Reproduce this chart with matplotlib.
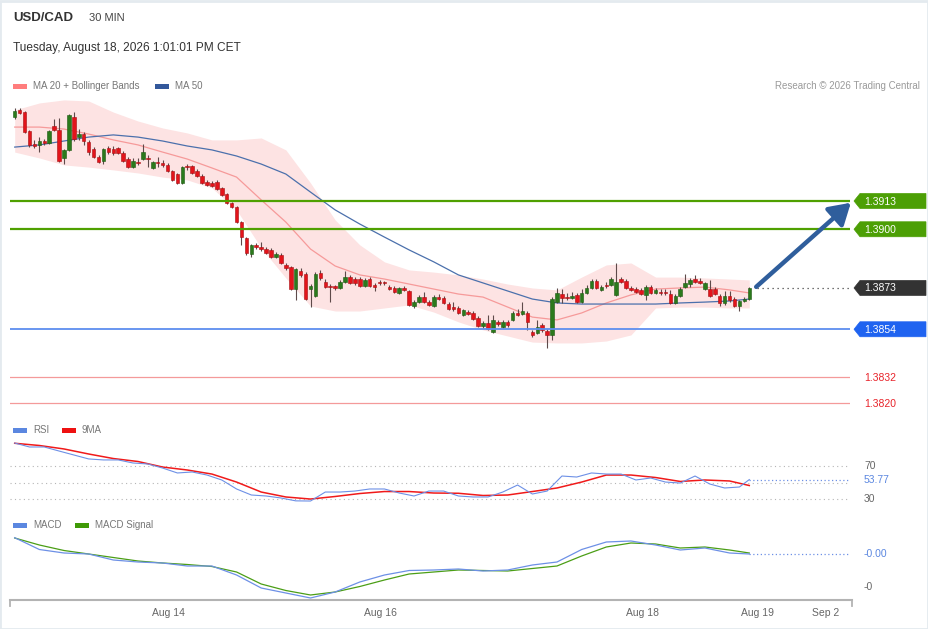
import numpy as np
import matplotlib
matplotlib.use('Agg')
import matplotlib.pyplot as plt
from matplotlib.patches import Polygon, Rectangle
from matplotlib.transforms import blended_transform_factory

plt.rcParams['font.family'] = ['Liberation Sans', 'DejaVu Sans']

W, H = 929, 629

# ---- USD/CAD 30 min candles ----
opens = [1.39516, 1.39549, 1.39539, 1.39452, 1.39392, 1.39388, 1.39406, 1.39397, 1.39475, 1.39457,
         1.39328, 1.39365, 1.39516, 1.39424, 1.39438, 1.39401, 1.39369, 1.39332, 1.39314, 1.39374,
         1.39369, 1.39374, 1.39351, 1.39323, 1.39286, 1.39309, 1.39323, 1.39328, 1.39282, 1.39310,
         1.39305, 1.39296, 1.39268, 1.39254, 1.39213, 1.39291, 1.39291, 1.39268, 1.39245, 1.39217,
         1.39213, 1.39217, 1.39190, 1.39162, 1.39121, 1.39102, 1.39034, 1.38959, 1.38886, 1.38928,
         1.38918, 1.38909, 1.38905, 1.38872, 1.38882, 1.38836, 1.38826, 1.38725, 1.38808, 1.38794,
         1.38725, 1.38693, 1.38799, 1.38757, 1.38739, 1.38739, 1.38730, 1.38757, 1.38780, 1.38771,
         1.38771, 1.38739, 1.38771, 1.38744, 1.38757, 1.38757, 1.38734, 1.38730, 1.38707, 1.38730,
         1.38716, 1.38647, 1.38666, 1.38689, 1.38666, 1.38647, 1.38689, 1.38684, 1.38656, 1.38642,
         1.38638, 1.38606, 1.38620, 1.38615, 1.38592, 1.38555, 1.38569, 1.38527, 1.38574, 1.38550,
         1.38574, 1.38583, 1.38615, 1.38610, 1.38615, 1.38527, 1.38523, 1.38559, 1.38532, 1.38514,
         1.38665, 1.38702, 1.38688, 1.38684, 1.38698, 1.38665, 1.38707, 1.38730, 1.38762, 1.38721,
         1.38744, 1.38744, 1.38698, 1.38771, 1.38762, 1.38730, 1.38725, 1.38721, 1.38698, 1.38734,
         1.38707, 1.38711, 1.38711, 1.38702, 1.38661, 1.38693, 1.38734, 1.38748, 1.38771, 1.38762,
         1.38725, 1.38725, 1.38725, 1.38693, 1.38661, 1.38693, 1.38679, 1.38647, 1.38670, 1.38679]
closes = [1.39544, 1.39535, 1.39447, 1.39388, 1.39383, 1.39406, 1.39397, 1.39452, 1.39457, 1.39314,
          1.39365, 1.39526, 1.39415, 1.39438, 1.39406, 1.39355, 1.39332, 1.39309, 1.39369, 1.39355,
          1.39351, 1.39351, 1.39314, 1.39286, 1.39314, 1.39305, 1.39355, 1.39323, 1.39310, 1.39305,
          1.39296, 1.39268, 1.39227, 1.39213, 1.39286, 1.39286, 1.39259, 1.39245, 1.39213, 1.39204,
          1.39199, 1.39185, 1.39158, 1.39121, 1.39102, 1.39034, 1.38964, 1.38891, 1.38928, 1.38918,
          1.38909, 1.38891, 1.38872, 1.38886, 1.38845, 1.38822, 1.38725, 1.38817, 1.38790, 1.38679,
          1.38739, 1.38794, 1.38776, 1.38734, 1.38734, 1.38730, 1.38757, 1.38780, 1.38753, 1.38753,
          1.38739, 1.38767, 1.38739, 1.38734, 1.38753, 1.38753, 1.38725, 1.38711, 1.38730, 1.38721,
          1.38652, 1.38666, 1.38689, 1.38666, 1.38652, 1.38689, 1.38680, 1.38661, 1.38633, 1.38633,
          1.38615, 1.38629, 1.38610, 1.38587, 1.38555, 1.38569, 1.38541, 1.38583, 1.38564, 1.38574,
          1.38560, 1.38615, 1.38606, 1.38624, 1.38574, 1.38514, 1.38550, 1.38537, 1.38514, 1.38679,
          1.38707, 1.38684, 1.38684, 1.38693, 1.38665, 1.38707, 1.38730, 1.38762, 1.38730, 1.38734,
          1.38739, 1.38771, 1.38757, 1.38757, 1.38730, 1.38721, 1.38711, 1.38702, 1.38734, 1.38707,
          1.38721, 1.38707, 1.38707, 1.38661, 1.38693, 1.38725, 1.38753, 1.38767, 1.38757, 1.38753,
          1.38753, 1.38693, 1.38702, 1.38661, 1.38693, 1.38675, 1.38647, 1.38670, 1.38679, 1.38728]
highs = [1.39559, 1.39559, 1.39544, 1.39457, 1.39411, 1.39424, 1.39415, 1.39457, 1.39507, 1.39512,
         1.39370, 1.39530, 1.39539, 1.39461, 1.39447, 1.39411, 1.39378, 1.39342, 1.39374, 1.39383,
         1.39383, 1.39378, 1.39360, 1.39332, 1.39328, 1.39328, 1.39392, 1.39342, 1.39314, 1.39332,
         1.39319, 1.39305, 1.39273, 1.39259, 1.39291, 1.39300, 1.39296, 1.39277, 1.39254, 1.39227,
         1.39222, 1.39227, 1.39195, 1.39167, 1.39125, 1.39107, 1.39038, 1.38964, 1.38932, 1.38937,
         1.38941, 1.38918, 1.38914, 1.38895, 1.38891, 1.38845, 1.38831, 1.38822, 1.38822, 1.38803,
         1.38748, 1.38803, 1.38813, 1.38771, 1.38748, 1.38744, 1.38767, 1.38808, 1.38790, 1.38780,
         1.38780, 1.38776, 1.38780, 1.38753, 1.38767, 1.38762, 1.38744, 1.38739, 1.38734, 1.38739,
         1.38721, 1.38675, 1.38698, 1.38711, 1.38675, 1.38698, 1.38702, 1.38693, 1.38666, 1.38666,
         1.38647, 1.38633, 1.38629, 1.38624, 1.38601, 1.38578, 1.38606, 1.38606, 1.38583, 1.38583,
         1.38583, 1.38624, 1.38633, 1.38666, 1.38624, 1.38537, 1.38583, 1.38569, 1.38541, 1.38688,
         1.38730, 1.38725, 1.38707, 1.38711, 1.38707, 1.38725, 1.38744, 1.38771, 1.38771, 1.38744,
         1.38757, 1.38780, 1.38845, 1.38780, 1.38771, 1.38739, 1.38734, 1.38730, 1.38744, 1.38744,
         1.38730, 1.38725, 1.38725, 1.38721, 1.38702, 1.38734, 1.38794, 1.38776, 1.38790, 1.38776,
         1.38757, 1.38767, 1.38734, 1.38702, 1.38716, 1.38716, 1.38688, 1.38675, 1.38688, 1.38733]
lows = [1.39507, 1.39530, 1.39443, 1.39378, 1.39374, 1.39355, 1.39388, 1.39392, 1.39452, 1.39310,
        1.39300, 1.39360, 1.39406, 1.39411, 1.39388, 1.39342, 1.39328, 1.39305, 1.39300, 1.39346,
        1.39342, 1.39346, 1.39310, 1.39282, 1.39282, 1.39296, 1.39319, 1.39286, 1.39277, 1.39286,
        1.39286, 1.39263, 1.39222, 1.39208, 1.39208, 1.39273, 1.39254, 1.39240, 1.39208, 1.39199,
        1.39195, 1.39181, 1.39153, 1.39116, 1.39098, 1.39029, 1.38928, 1.38882, 1.38872, 1.38909,
        1.38900, 1.38886, 1.38868, 1.38868, 1.38840, 1.38813, 1.38721, 1.38675, 1.38780, 1.38675,
        1.38642, 1.38688, 1.38767, 1.38730, 1.38666, 1.38721, 1.38725, 1.38753, 1.38748, 1.38744,
        1.38734, 1.38734, 1.38734, 1.38716, 1.38744, 1.38744, 1.38721, 1.38707, 1.38702, 1.38716,
        1.38647, 1.38638, 1.38661, 1.38661, 1.38647, 1.38642, 1.38675, 1.38656, 1.38629, 1.38624,
        1.38610, 1.38601, 1.38606, 1.38583, 1.38550, 1.38546, 1.38537, 1.38523, 1.38555, 1.38546,
        1.38550, 1.38578, 1.38601, 1.38606, 1.38537, 1.38504, 1.38518, 1.38527, 1.38454, 1.38491,
        1.38661, 1.38661, 1.38675, 1.38680, 1.38661, 1.38661, 1.38702, 1.38725, 1.38725, 1.38716,
        1.38730, 1.38739, 1.38693, 1.38753, 1.38725, 1.38716, 1.38707, 1.38698, 1.38675, 1.38702,
        1.38702, 1.38698, 1.38698, 1.38656, 1.38656, 1.38688, 1.38730, 1.38734, 1.38753, 1.38748,
        1.38721, 1.38688, 1.38698, 1.38647, 1.38652, 1.38666, 1.38642, 1.38624, 1.38666, 1.38675]

# indicator lines, read every 5th candle (candles 1, 6, 11 ... 146, 150)
ind_idx = list(range(1, 147, 5)) + [150]
ma20 = [1.39470, 1.39470, 1.39461, 1.39438, 1.39411, 1.39388, 1.39355, 1.39323, 1.39282, 1.39240,
        1.39135, 1.39033, 1.38909, 1.38831, 1.38790, 1.38771, 1.38748, 1.38725, 1.38702, 1.38688,
        1.38642, 1.38596, 1.38583, 1.38615, 1.38661, 1.38698, 1.38725, 1.38730, 1.38734, 1.38721,
        1.38707]
ma50 = [1.39378, 1.39388, 1.39406, 1.39424, 1.39434, 1.39424, 1.39406, 1.39383, 1.39365, 1.39337,
        1.39300, 1.39254, 1.39171, 1.39089, 1.39024, 1.38964, 1.38905, 1.38850, 1.38790, 1.38753,
        1.38716, 1.38679, 1.38661, 1.38656, 1.38656, 1.38656, 1.38656, 1.38661, 1.38665, 1.38670,
        1.38679]
bb_upper = [1.39549, 1.39581, 1.39595, 1.39590, 1.39539, 1.39498, 1.39466, 1.39443, 1.39411, 1.39411,
            1.39420, 1.39365, 1.39213, 1.39043, 1.38928, 1.38850, 1.38813, 1.38803, 1.38790, 1.38771,
            1.38748, 1.38730, 1.38721, 1.38780, 1.38836, 1.38845, 1.38780, 1.38780, 1.38776, 1.38771,
            1.38767]
bb_lower = [1.39355, 1.39328, 1.39296, 1.39286, 1.39273, 1.39259, 1.39240, 1.39227, 1.39190, 1.39089,
            1.38914, 1.38776, 1.38647, 1.38624, 1.38624, 1.38638, 1.38652, 1.38619, 1.38574, 1.38537,
            1.38509, 1.38481, 1.38477, 1.38477, 1.38486, 1.38514, 1.38638, 1.38642, 1.38642, 1.38638,
            1.38638]

# RSI (every 3rd candle) and its 9MA (every 5th candle)
rsi_idx = list(range(1, 149, 3)) + [150]
rsi = [98.1, 93.3, 93.3, 88.4, 83.6, 78.8, 77.6, 77.6, 73.9, 72.7,
       67.8, 61.8, 63.0, 59.3, 53.3, 42.4, 35.1, 33.9, 31.5, 28.0,
       27.8, 38.7, 38.7, 39.9, 42.4, 42.4, 37.5, 33.9, 39.9, 39.9,
       33.9, 32.7, 32.7, 38.7, 47.2, 36.3, 39.9, 58.1, 56.9, 61.8,
       60.5, 60.5, 53.3, 55.7, 50.8, 49.6, 58.1, 48.4, 43.6, 44.8, 53.77]
rsi_ma = [97.8, 95.1, 90.9, 84.8, 79.3, 75.7, 69.0, 65.4, 60.5, 50.8,
          38.7, 32.7, 30.2, 33.3, 36.9, 39.3, 39.3, 37.5, 37.2, 34.5,
          35.1, 39.3, 43.6, 50.8, 59.3, 59.3, 56.3, 51.5, 53.3, 52.1, 46.6]

# MACD and signal (pips), every 5th candle
macd = [4.19, 0.65, -0.4, -0.7, -2.5, -3.1, -3.4, -4.3, -4.3, -7.0,
        -10.9, -12.4, -13.9, -12.1, -9.1, -7.0, -5.65, -5.5, -5.2, -5.8,
        -5.5, -4.0, -3.1, 0.65, 2.9, 3.2, 2.0, 0.5, 1.1, -0.4, -0.7]
macd_signal = [4.1, 2.0, 0.35, -0.7, -1.75, -2.8, -3.4, -3.85, -4.45, -6.1,
               -9.7, -11.65, -13.0, -12.1, -10.45, -8.5, -6.7, -6.1, -5.5, -5.65,
               -5.8, -5.05, -4.3, -1.3, 1.4, 2.6, 2.3, 1.1, 1.4, 0.5, -0.4]

resistances = [1.3913, 1.3900]
last_price = 1.3873
support = 1.3854
supports_low = [1.3832, 1.3820]
rsi_last = 53.77

date_pos = [32.1, 75.1, 128.4, 151.6, 165.4]
date_labels = ['Aug 14', 'Aug 16', 'Aug 18', 'Aug 19', 'Sep 2']


def px_rect(x0, y0, x1, y1):
    return [x0 / W, 1 - y1 / H, (x1 - x0) / W, (y1 - y0) / H]


fig = plt.figure(figsize=(W / 100, H / 100), dpi=100)
fig.patch.set_facecolor('white')

XLIM = (0.047, 170.43)

ax = fig.add_axes(px_rect(10, 98, 850, 415))
ax_rsi = fig.add_axes(px_rect(10, 437, 850, 512))
ax_macd = fig.add_axes(px_rect(10, 530, 850, 600))
for a in (ax, ax_rsi, ax_macd):
    a.set_xlim(*XLIM)
    for s in a.spines.values():
        s.set_visible(False)
    a.set_yticks([])
    a.tick_params(length=0)
    a.set_xticks([])
    a.patch.set_alpha(0)

ax.set_ylim(1.381456, 1.396038)
ax_rsi.set_ylim(14.5, 105.4)
ax_macd.set_ylim(-14.5, 6.5)

# bollinger + moving averages
ax.fill_between(ind_idx, bb_lower, bb_upper, color='#fde3e3', lw=0, zorder=1)
ax.plot(ind_idx, ma20, color='#f69a9a', lw=0.9, zorder=2)
ax.plot(ind_idx, ma50, color='#4b70ac', lw=0.9, zorder=2)

# candles
n = np.arange(1, len(closes) + 1)
o = np.array(opens)
c = np.array(closes)
up = c >= o
ax.vlines(n, lows, highs, color='#5e4a4a', lw=0.8, zorder=3)
ax.bar(n, c - o, bottom=o, width=0.72,
       color=np.where(up, '#2b7a1c', '#e3141b'),
       edgecolor=np.where(up, '#1d5912', '#a50e12'),
       linewidth=0.4, zorder=4)

# key levels
for r in resistances:
    ax.axhline(r, color='#4fa000', lw=1.6, zorder=5)
ax.axhline(support, color='#5d8eef', lw=1.3, zorder=5)
for s in supports_low:
    ax.axhline(s, color='#f49a9a', lw=0.9, zorder=5)
ax.plot([151.5, XLIM[1]], [last_price, last_price], color='#444444', lw=0.9,
        ls=(0, (1, 3)), zorder=5)

ax.annotate('', xy=(170.6, 1.39122), xytext=(151.4, 1.38735),
            arrowprops=dict(arrowstyle='-|>,head_length=0.9,head_width=0.55',
                            color='#2f5e9c', lw=3.2, shrinkA=0, shrinkB=0,
                            mutation_scale=14),
            annotation_clip=False, zorder=6)

# RSI panel
for lvl in (70, 50, 30):
    ax_rsi.axhline(lvl, color='#b5b5b5', lw=0.8, ls=(0, (1, 3)))
ax_rsi.plot(rsi_idx, rsi, color='#6d90e6', lw=0.8, zorder=3)
ax_rsi.plot(ind_idx, rsi_ma, color='#f01a1a', lw=1.1, zorder=2)
ax_rsi.plot([150, XLIM[1]], [rsi_last, rsi_last], color='#6d90e6', lw=0.9, ls=(0, (1, 2)))
tr = blended_transform_factory(ax_rsi.transAxes, ax_rsi.transData)
lab_x = (864 - 10) / 840
ax_rsi.text(lab_x, 70, '70', transform=tr, va='center', ha='left', fontsize=7.5, color='#666666')
ax_rsi.text(lab_x, 30, '30', transform=tr, va='center', ha='left', fontsize=7.5, color='#666666')
ax_rsi.text(lab_x, rsi_last, f'{rsi_last:.2f}', transform=tr, va='center', ha='left',
            fontsize=7.5, color='#5b87e0')

# MACD panel
ax_macd.plot(ind_idx, macd, color='#6d90e6', lw=0.9, zorder=3)
ax_macd.plot(ind_idx, macd_signal, color='#4b9e16', lw=0.9, zorder=2)
ax_macd.plot([150, XLIM[1]], [macd[-1], macd[-1]], color='#6d90e6', lw=0.9, ls=(0, (1, 2)))
trm = blended_transform_factory(ax_macd.transAxes, ax_macd.transData)
ax_macd.text(lab_x, macd[-1], '-0.00', transform=trm, va='center', ha='left',
             fontsize=7.5, color='#5b87e0')
ax_macd.text(lab_x, -10.6, '-0', transform=trm, va='center', ha='left',
             fontsize=7.5, color='#666666')
ax_macd.set_xticks(date_pos)
ax_macd.set_xticklabels(date_labels, fontsize=7.5, color='#666666')
ax_macd.tick_params(axis='x', length=0, pad=6)

# overlay in pixel coordinates for header, legends, tags
ov = fig.add_axes([0, 0, 1, 1])
ov.set_xlim(0, W)
ov.set_ylim(H, 0)
ov.axis('off')
ov.patch.set_alpha(0)

ov.add_patch(Rectangle((0.5, 0.5), W - 1, H - 1, fill=False, edgecolor='#e4eaef', lw=2))
ov.plot([10, 852], [600, 600], color='#b3b3b3', lw=1.5)
ov.plot([10.5, 10.5], [600, 606], color='#b3b3b3', lw=1.3)
ov.plot([852, 852], [600, 606], color='#b3b3b3', lw=1.3)

ov.text(13, 18, 'USD/CAD', fontsize=9.5, fontweight='bold', color='#333333', va='center')
ov.text(89, 18, '30 MIN', fontsize=8, color='#444444', va='center')
ov.text(13, 48, 'Tuesday, August 18, 2026 1:01:01 PM CET', fontsize=8.6, color='#333333',
        va='center')
ov.text(920, 86, 'Research \u00a9 2026 Trading Central', fontsize=7, color='#9a9a9a',
        va='center', ha='right')


def legend_item(x, y, color, label):
    ov.add_patch(Rectangle((x, y - 2.5), 14, 5, color=color, lw=0))
    ov.text(x + 20, y, label, fontsize=7, color='#777777', va='center')


legend_item(13, 86, '#ff7d7d', 'MA 20 + Bollinger Bands')
legend_item(155, 86, '#33589b', 'MA 50')
legend_item(13, 430, '#5b87e0', 'RSI')
legend_item(62, 430, '#ee1111', '9MA')
legend_item(13, 525, '#5b87e0', 'MACD')
legend_item(75, 525, '#3f9a06', 'MACD Signal')


def price_to_px(v):
    return H - ax.transData.transform((1, v))[1]


def tag(v, face, text_color='white'):
    y = price_to_px(v)
    pts = [(854, y), (860, y - 7.5), (926, y - 7.5), (926, y + 7.5), (860, y + 7.5)]
    ov.add_patch(Polygon(pts, closed=True, facecolor=face, edgecolor=face, lw=0.5))
    ov.text(864, y + 0.5, f'{v:.4f}', fontsize=7.5, color=text_color, va='center')


for r in resistances:
    tag(r, '#4c9f05')
tag(last_price, '#333333')
tag(support, '#1f63f0')
for s in supports_low:
    ov.text(864, price_to_px(s) + 0.5, f'{s:.4f}', fontsize=7.5, color='#e8232a', va='center')

fig.savefig('out.png', dpi=100)
